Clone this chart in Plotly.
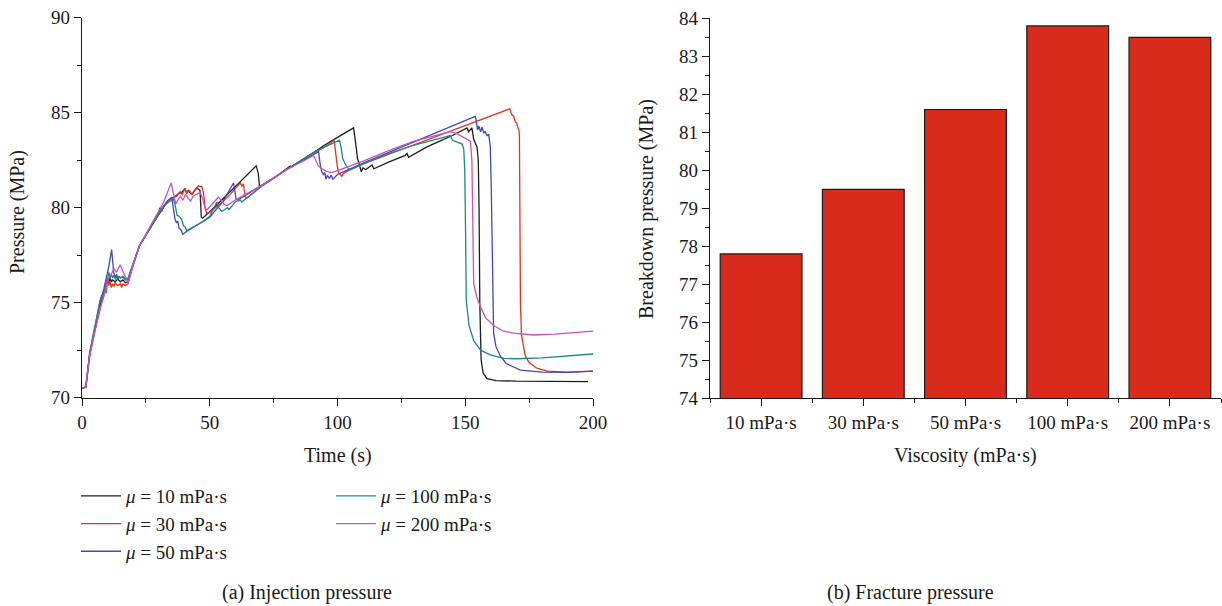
import plotly.graph_objects as go

W, H = 1222, 606
FONT = "Liberation Serif"

# ---------------- data: (a) injection pressure ----------------
t_10 = [0, 1.5, 3, 5, 7, 8.5, 9.5, 10, 10.5, 11, 11.5, 12, 13, 14, 15, 16, 17, 18, 20, 22.5,
        27, 32, 33.5, 35, 36.5, 38, 39, 40.3, 41, 41.6, 43, 44.9, 46.2, 46.7, 47.2, 50.1,
        68.2, 69.0, 69.5, 75, 81.5, 82.2, 90, 95, 100, 106.3, 107.3, 107.8, 108.5, 109.3,
        110, 111, 112, 113.5, 114.2, 115, 120, 126.5, 127.2, 127.8, 135, 140, 145, 150.7,
        151.3, 152.6, 153.3, 154.6, 155.1, 155.4, 155.7, 156.2, 157, 158.5, 162, 170, 180,
        190, 198]
p_10 = [70.5, 70.55, 72.3, 73.6, 74.8, 75.5, 75.9, 76.2, 76.0, 76.3, 76.1, 76.2, 76.1, 76.25,
        76.1, 76.2, 76.05, 76.1, 77.0, 78.0,
        79.0, 80.05, 80.35, 80.5, 80.6, 80.75, 80.8, 81.0, 80.75, 80.9, 80.7, 81.05, 80.9,
        79.5, 79.45, 79.8,
        82.2, 81.8, 81.1, 81.55, 82.2, 82.15, 82.85, 83.3, 83.7, 84.2, 83.2, 82.6, 82.3, 81.9,
        82.1, 82.0, 82.1, 82.25, 82.05, 82.1, 82.4, 82.75, 82.85, 82.65, 83.2, 83.5, 83.8, 84.2,
        84.0, 84.2, 83.6, 83.2, 82.5, 80.0, 75.0, 72.0, 71.3, 71.0, 70.9, 70.87, 70.85,
        70.85, 70.85]

t_30 = [0, 1.5, 3, 5, 7, 8.5, 9.5, 10, 10.5, 11, 11.5, 12, 12.5, 13, 14, 15, 15.5, 16, 17, 18,
        20, 22.5, 27, 32, 34, 36, 37, 38.4, 39.2, 40.3, 41, 42, 43, 44, 45.6, 46.9, 47.5, 48.2,
        48.8, 50, 55, 58, 60, 61.9, 62.5, 63.2, 63.8, 64.5, 70, 80, 90, 95, 98.7, 99.3, 99.9,
        100.4, 101, 101.7, 102.3, 105, 110, 120, 130, 140, 150, 160, 167.4, 168.2, 169, 169.6,
        170.2, 170.5, 171.0, 171.2, 171.4, 171.6, 172, 173.5, 175, 178, 182, 190, 200]
p_30 = [70.5, 70.55, 72.2, 73.5, 74.6, 75.4, 75.9, 76.3, 75.9, 76.1, 75.8, 76.0, 75.85, 76.05,
        75.9, 76.0, 75.8, 76.0, 75.9, 76.0,
        76.95, 78.0, 79.0, 80.1, 80.4, 80.55, 80.6, 80.85, 80.7, 81.0, 80.8, 80.9, 80.7, 80.9,
        81.15, 81.1, 80.8, 80.0,
        79.7, 79.75, 80.3, 80.7, 81.0, 81.3, 81.15, 81.25, 80.6, 80.5, 81.1, 82.0, 82.85, 83.2,
        83.55, 82.8, 82.2,
        81.85, 81.75, 81.65, 81.8, 82.0, 82.3, 82.8, 83.3, 83.8, 84.3, 84.8, 85.2, 84.9, 84.8,
        84.5,
        84.45, 84.25, 84.1, 83.8, 80.0, 75.0, 73.3, 72.2, 71.85, 71.55, 71.4, 71.35, 71.4]

t_50 = [0, 1.5, 3, 5, 7, 8.5, 9.5, 10.5, 11.6, 12.1, 12.4, 13, 13.5, 14, 14.5, 15, 16, 17, 18,
        20, 22.5, 27, 30, 30.5, 31.2, 32, 33.5, 35.1, 35.8, 36.4, 37, 37.5, 38, 38.7, 39.4, 41,
        47, 50, 55, 59.3, 59.8, 60.3, 61, 70, 80, 88, 92.6, 93.2, 93.8, 94.5, 95, 95.5, 96,
        96.8, 97.5, 98.2, 99.1, 100, 110, 120, 130, 140, 148, 153.9, 154.3, 154.8, 155.3, 156,
        156.6, 157.2, 157.8, 158.5, 159.2, 159.8, 160.2, 160.6, 161.1, 162, 163.7, 166, 171.6,
        180, 190, 200]
p_50 = [70.5, 70.55, 72.4, 73.8, 75.0, 75.7, 76.3, 76.9, 77.8, 77.0, 76.6, 76.3, 76.5, 76.2,
        76.4, 76.3, 76.35, 76.2, 76.2,
        77.05, 78.0, 79.0, 79.7, 80.0, 79.8, 80.1, 80.35, 80.55, 80.0, 79.4, 79.2, 79.3, 78.9,
        78.85, 78.6, 78.75,
        79.25, 79.5, 80.3, 81.3, 80.9, 80.45, 80.4, 81.15, 82.0, 82.6, 82.95, 82.3, 81.9, 81.75,
        81.85, 81.5, 81.7,
        81.55, 81.7, 81.5, 81.65, 81.75, 82.35, 82.9, 83.45, 84.0, 84.45, 84.8, 84.6, 84.1,
        84.3, 84.0,
        84.25, 83.95, 84.0, 83.8, 83.85, 83.2, 81.0, 76.0, 73.4, 72.7, 72.2, 71.8, 71.45,
        71.35, 71.33, 71.4]

t_100 = [0, 1.5, 3, 5, 7, 7.7, 8.2, 9, 9.5, 10, 10.5, 11, 11.5, 12, 12.5, 13, 14, 15, 16, 17,
         18, 20, 22.5, 27, 32, 34, 35.8, 36.5, 37.2, 38, 39, 39.7, 40.3, 41, 47, 50, 52.8,
         53.5, 54.7, 57, 57.5, 60, 62, 62.5, 70, 80, 90, 95, 100.8, 101.5, 102, 103, 103.6,
         104.3, 105, 110, 120, 130, 140, 144.1, 145, 146.1, 147, 148.1, 148.8, 149.4, 149.8,
         150.1, 150.4, 151.5, 153.3, 156, 159.8, 165, 170, 180, 190, 200]
p_100 = [70.5, 70.55, 72.3, 73.8, 75.1, 75.4, 75.2, 75.7, 75.5, 76.2, 76.6, 76.3, 76.5, 76.3,
         76.45, 76.25, 76.4, 76.3, 76.4, 76.25,
         76.3, 77.05, 78.0, 79.0, 80.1, 80.3, 80.45, 80.1, 79.6, 79.55, 79.4, 79.05, 79.0,
         78.8, 79.25, 79.55, 80.3,
         80.0, 79.8, 80.0, 79.9, 80.3, 80.4, 80.3, 81.1, 82.0, 82.85, 83.2, 83.55, 83.1, 82.6,
         82.3, 82.15,
         82.05, 82.0, 82.3, 82.85, 83.3, 83.65, 83.8, 83.55, 83.5, 83.45, 83.4, 83.35, 83.1,
         82.0,
         79.0, 75.1, 73.8, 73.0, 72.5, 72.25, 72.07, 72.05, 72.1, 72.2, 72.3]

t_200 = [0, 1.5, 3, 5, 7, 8.5, 9.5, 10.5, 11.5, 12.5, 13.5, 14.9, 15.5, 16.5, 18, 20, 22.5, 27,
         32, 34.9, 35.6, 36.7, 37.5, 38.5, 39.5, 40.5, 41.5, 42.5, 43.5, 45, 46.2, 47.2, 48.2,
         49, 51, 53.4, 54.5, 55.5, 56.7, 60, 70, 80, 88, 90.6, 91.5, 92.5, 93.9, 95, 95.8,
         97.8, 100, 110, 120, 130, 140, 144.1, 146.7, 148, 149.9, 152, 152.6, 152.9, 153.3,
         154.5, 155.9, 158, 161.1, 165, 168.9, 176.8, 185, 200]
p_200 = [70.5, 70.55, 72.2, 73.5, 74.7, 75.3, 75.9, 76.3, 76.5, 76.8, 76.6, 77.0, 76.8, 76.5,
         76.05, 77.0, 78.0, 79.1,
         80.3, 81.3, 80.8, 80.2, 80.4, 80.6, 80.4, 80.7, 80.5, 80.35, 80.6, 80.7, 80.8, 80.5,
         79.95,
         79.9, 80.2, 80.55, 80.4, 80.2, 80.1, 80.4, 81.15, 82.0, 82.55, 82.75, 82.5, 82.2,
         82.05, 81.95, 81.9,
         81.85, 81.95, 82.45, 83.0, 83.5, 83.85, 84.0, 83.9, 83.8, 83.65, 83.5, 82.5, 79.0,
         76.0,
         75.3, 74.8, 74.2, 73.8, 73.5, 73.4, 73.3, 73.35, 73.5]

series_names = ["<i>μ</i> = 10 mPa·s", "<i>μ</i> = 30 mPa·s", "<i>μ</i> = 50 mPa·s",
                "<i>μ</i> = 100 mPa·s", "<i>μ</i> = 200 mPa·s"]
series_colors = ["#1e1e1e", "#e5321c", "#4646b4", "#1b8a80", "#cc4fc2"]

# ---------------- data: (b) fracture pressure ----------------
viscosity_labels = ["10 mPa·s", "30 mPa·s", "50 mPa·s", "100 mPa·s", "200 mPa·s"]
breakdown_pressure = [77.8, 79.5, 81.6, 83.8, 83.5]

series = [(t_10, p_10), (t_30, p_30), (t_50, p_50), (t_100, p_100), (t_200, p_200)]
for i, (tt, pp) in enumerate(series):
    if len(tt) != len(pp):
        raise ValueError(f"series {i}: {len(tt)} t vs {len(pp)} p")

fig = go.Figure()
legend_of = ["legend", "legend", "legend", "legend2", "legend2"]
for (tt, pp), name, col, lg in zip(series, series_names, series_colors, legend_of):
    fig.add_trace(go.Scatter(x=tt, y=pp, mode="lines", name=name,
                             line=dict(color=col, width=1.3),
                             xaxis="x", yaxis="y", legend=lg))

fig.add_trace(go.Bar(x=list(range(len(viscosity_labels))), y=breakdown_pressure,
                     width=0.8, marker=dict(color="#d92b1b",
                     line=dict(color="#1a1a1a", width=1.2)),
                     xaxis="x2", yaxis="y2", showlegend=False))


def px_x(p):
    return p / W


def px_y(p):
    return 1 - p / H


TICK_SIZE = 19
TEXT_SIZE = 20
LEGEND_SIZE = 19
tickfont = dict(family=FONT, size=TICK_SIZE, color="#1a1a1a")
axis_common = dict(showline=True, linecolor="#1a1a1a", linewidth=1.3, ticks="outside",
                   ticklen=7, tickwidth=1.3, tickcolor="#1a1a1a", showgrid=False,
                   zeroline=False, tickfont=tickfont, mirror=False, automargin=False)
minor_common = dict(ticks="outside", ticklen=4, tickwidth=1.3, tickcolor="#1a1a1a")

fig.update_layout(
    template="none",
    width=W, height=H, margin=dict(l=0, r=0, t=0, b=0, pad=0), autosize=False,
    paper_bgcolor="white", plot_bgcolor="white",
    font=dict(family=FONT, size=TEXT_SIZE, color="#1a1a1a"),
    xaxis=dict(domain=[px_x(82), px_x(593)], range=[0, 200], anchor="y", dtick=50, tick0=0,
               minor=dict(dtick=25, tick0=0, **minor_common), **axis_common),
    yaxis=dict(domain=[px_y(397.7), px_y(17.7)], range=[70, 90], anchor="x", dtick=5, tick0=70,
               minor=dict(dtick=2.5, tick0=70, **minor_common), **axis_common),
    xaxis2=dict(domain=[px_x(710), px_x(1221)], range=[-0.5, 4.5], anchor="y2",
                tickmode="array", tickvals=list(range(len(viscosity_labels))),
                ticktext=viscosity_labels,
                minor=dict(tickmode="linear", tick0=-0.5, dtick=1, **minor_common),
                **axis_common),
    yaxis2=dict(domain=[px_y(398.3), px_y(18.3)], range=[74, 84], anchor="x2", dtick=1, tick0=74,
                minor=dict(dtick=0.5, tick0=74, **minor_common), **axis_common),
    legend=dict(x=px_x(76), y=px_y(477), xanchor="left", yanchor="top",
                bgcolor="rgba(0,0,0,0)", font=dict(family=FONT, size=LEGEND_SIZE, color="#1a1a1a"),
                tracegroupgap=0, itemwidth=40),
    legend2=dict(x=px_x(331), y=px_y(477), xanchor="left", yanchor="top",
                 bgcolor="rgba(0,0,0,0)", font=dict(family=FONT, size=LEGEND_SIZE, color="#1a1a1a"),
                 tracegroupgap=0, itemwidth=40),
    bargap=0.2,
)

ann = [
    ("Pressure (MPa)", 17, 212, -90),
    ("Time (s)", 338, 455, 0),
    ("Breakdown pressure (MPa)", 646, 209, -90),
    ("Viscosity (mPa·s)", 965, 455, 0),
    ("(a) Injection pressure", 307, 592, 0),
    ("(b) Fracture pressure", 910, 592, 0),
]
for text, x, y, ang in ann:
    fig.add_annotation(text=text, x=px_x(x), y=px_y(y), xref="paper", yref="paper",
                       xanchor="center", yanchor="middle", showarrow=False, textangle=ang,
                       font=dict(family=FONT, size=TEXT_SIZE, color="#1a1a1a"))

fig.write_html("out.html")
